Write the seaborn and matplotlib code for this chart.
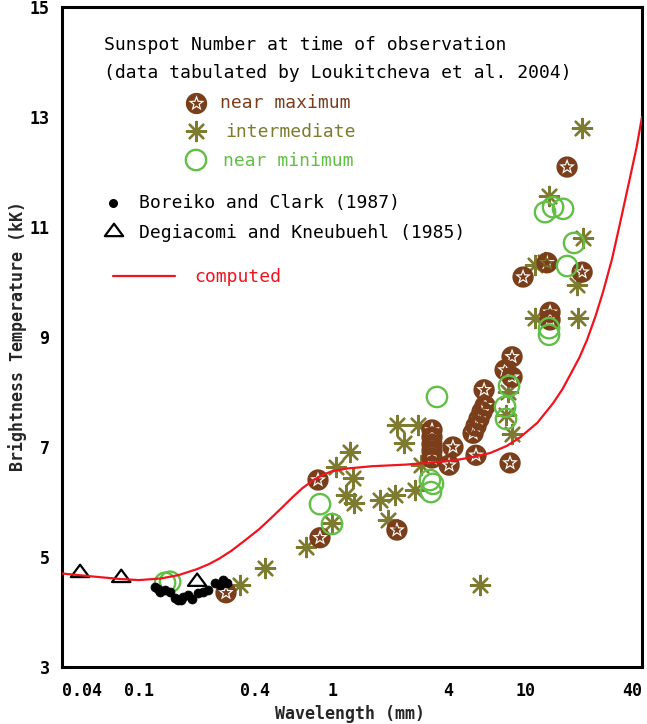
import numpy as np
import pandas as pd
import matplotlib
matplotlib.use("Agg")
import matplotlib.pyplot as plt
from matplotlib.path import Path
import seaborn as sns

# ---- observations, sunspot number near maximum (wavelength mm, T kK)
max_wl = [0.282, 0.844, 0.864, 2.16, 3.28, 3.28, 3.28, 3.28, 3.28, 4.21, 4.02,
          5.54, 6.10, 5.35, 5.54, 5.74, 5.95, 6.17, 8.31, 8.51, 7.83, 8.51,
          9.70, 12.91, 19.6, 13.38, 13.38, 16.39]
max_tb = [4.35, 6.40, 5.35, 5.49, 7.31, 7.18, 7.05, 6.93, 6.80, 7.00, 6.67,
          6.85, 8.04, 7.25, 7.38, 7.51, 7.64, 7.75, 6.71, 8.64, 8.40, 8.27,
          10.09, 10.35, 10.18, 9.45, 9.31, 12.09]

# ---- intermediate sunspot number
mid_wl = [0.333, 0.449, 0.732, 0.997, 1.943, 1.236, 1.046, 1.281, 1.178, 1.296,
          1.767, 2.112, 2.68, 2.163, 2.78, 2.351, 2.88, 5.81, 19.6, 13.22,
          19.83, 12.61, 11.19, 18.46, 11.19, 18.68, 8.11, 7.92, 8.51]
mid_tb = [4.49, 4.80, 5.18, 5.62, 5.67, 6.91, 6.64, 6.44, 6.13, 5.98,
          6.04, 6.13, 6.22, 7.40, 7.40, 7.07, 6.67, 4.49, 12.80, 11.56,
          10.80, 10.36, 10.31, 9.95, 9.35, 9.35, 8.00, 7.58, 7.24]

# ---- sunspot number near minimum
min_wl = [0.1365, 0.145, 0.864, 0.997, 3.48, 3.20, 3.24, 3.32, 12.61, 13.87,
          15.62, 17.81, 16.39, 13.22, 13.22, 8.21, 7.83, 7.92]
min_tb = [4.53, 4.55, 5.96, 5.60, 7.91, 6.40, 6.18, 6.33, 11.27, 11.36,
          11.33, 10.71, 10.29, 9.04, 9.16, 8.11, 7.73, 7.51]

# ---- Boreiko and Clark (1987)
bc_wl = [0.121, 0.125, 0.128, 0.137, 0.145, 0.154, 0.159, 0.165, 0.169, 0.180,
         0.188, 0.202, 0.214, 0.228, 0.247, 0.262, 0.272, 0.286]
bc_tb = [4.45, 4.42, 4.36, 4.40, 4.36, 4.25, 4.22, 4.22, 4.27, 4.31,
         4.24, 4.35, 4.36, 4.40, 4.53, 4.49, 4.58, 4.53]

# ---- Degiacomi and Kneubuehl (1985)
dk_wl = [0.0496, 0.081, 0.200]
dk_tb = [4.71, 4.62, 4.55]

# ---- computed brightness temperature spectrum
model_wl = [0.04, 0.06, 0.08, 0.10, 0.13, 0.16, 0.20, 0.23, 0.26, 0.30, 0.35,
            0.42, 0.49, 0.55, 0.62, 0.70, 0.80, 0.90, 1.0, 1.2, 1.6, 2.4, 3.6,
            4.5, 5.35, 6.55, 8.0, 9.4, 11.5, 13.9, 15.5, 17.0, 19.0, 20.8,
            23.0, 25.2, 28.0, 30.8, 34.7, 37.5, 40.0]
model_tb = [4.70, 4.64, 4.60, 4.58, 4.61, 4.67, 4.78, 4.87, 4.97, 5.11, 5.29,
            5.51, 5.73, 5.90, 6.08, 6.25, 6.40, 6.50, 6.56, 6.61, 6.65, 6.68,
            6.73, 6.77, 6.82, 6.89, 7.02, 7.18, 7.44, 7.80, 8.05, 8.31, 8.63,
            8.95, 9.38, 9.83, 10.42, 11.07, 11.90, 12.45, 13.0]

xticks = [0.04, 0.1, 0.4, 1, 4, 10, 40]
xtick_labels = ["0.04", "0.1", "0.4", "1", "4", "10", "40"]
yticks = [3, 5, 7, 9, 11, 13, 15]

BROWN = "#7a3e1b"
OLIVE = "#7d7b2f"
GREEN = "#62bf45"
RED = "#f0141e"

sns.set_style("white")
plt.rcParams["font.family"] = ["DejaVu Sans Mono", "DejaVu Sans"]


def star_ring_marker():
    """Filled disc with a star-shaped ring cut out of it."""
    t = np.linspace(0, 2 * np.pi, 65)
    circ = np.column_stack([np.cos(t), np.sin(t)])

    def star(r_out):
        ang = np.pi / 2 + np.arange(10) * np.pi / 5
        rad = np.where(np.arange(10) % 2 == 0, r_out, r_out * 0.42)
        pts = np.column_stack([rad * np.cos(ang), rad * np.sin(ang)])
        return np.vstack([pts, pts[:1]])

    outer = star(0.78)[::-1]      # clockwise -> hole
    inner = star(0.46)            # counter-clockwise -> filled again
    verts, codes = [], []
    for poly in (circ, outer, inner):
        verts.extend(poly.tolist())
        codes.extend([Path.MOVETO] + [Path.LINETO] * (len(poly) - 2) + [Path.CLOSEPOLY])
    return Path(verts, codes)


STAR_DISC = star_ring_marker()
TRIANGLE = Path([(-1, -0.45), (1, -0.45), (0, 0.9), (-1, -0.45)],
                [Path.MOVETO, Path.LINETO, Path.LINETO, Path.CLOSEPOLY])
ASTER = (8, 2, 0)

fig = plt.figure(figsize=(6.47, 7.24), dpi=100)
ax = fig.add_axes([62 / 647, 1 - 667 / 724, 580 / 647, 660 / 724])

df_mid = pd.DataFrame({"wl": mid_wl, "tb": mid_tb})
df_max = pd.DataFrame({"wl": max_wl, "tb": max_tb})
df_min = pd.DataFrame({"wl": min_wl, "tb": min_tb})
df_bc = pd.DataFrame({"wl": bc_wl, "tb": bc_tb})
df_dk = pd.DataFrame({"wl": dk_wl, "tb": dk_tb})
df_model = pd.DataFrame({"wl": model_wl, "tb": model_tb})

sns.scatterplot(data=df_mid, x="wl", y="tb", ax=ax, marker=ASTER, s=190,
                color=OLIVE, linewidth=1.7, zorder=3)
sns.scatterplot(data=df_max, x="wl", y="tb", ax=ax, marker=STAR_DISC, s=235,
                color=BROWN, edgecolor="none", linewidth=0, zorder=4)
sns.scatterplot(data=df_min, x="wl", y="tb", ax=ax, marker="o", s=215,
                facecolor="none", edgecolor=GREEN, linewidth=1.7, zorder=5)
sns.scatterplot(data=df_bc, x="wl", y="tb", ax=ax, marker="o", s=42,
                color="black", edgecolor="black", linewidth=0.5, zorder=6)
sns.scatterplot(data=df_dk, x="wl", y="tb", ax=ax, marker=TRIANGLE, s=175,
                facecolor="none", edgecolor="black", linewidth=1.6, zorder=6)
sns.lineplot(data=df_model, x="wl", y="tb", ax=ax, color=RED, linewidth=1.6,
             errorbar=None, zorder=7)

ax.set_xscale("log")
ax.set_xlim(0.04, 40)
ax.set_ylim(3, 15)
ax.set_xticks(xticks)
ax.set_xticklabels(xtick_labels)
ax.xaxis.set_minor_locator(matplotlib.ticker.NullLocator())
ax.set_yticks(yticks)
ax.set_yticklabels([str(v) for v in yticks])
ax.set_xlabel("")
ax.set_ylabel("")
ax.tick_params(axis="both", direction="in", length=9.5, width=1.6,
               colors="black", labelsize=12, top=False, right=False)
ax.tick_params(axis="x", pad=11)
ax.tick_params(axis="y", pad=9)
for lbl in ax.get_xticklabels() + ax.get_yticklabels():
    lbl.set_fontweight("bold")
ax.get_xticklabels()[0].set_ha("left")
ax.get_xticklabels()[-1].set_ha("right")
for sp in ax.spines.values():
    sp.set_visible(True)
    sp.set_linewidth(2.2)
    sp.set_color("black")

fig.text(350 / 647, 1 - 714 / 724, "Wavelength (mm)", ha="center", va="center",
         fontsize=12, fontweight="bold")
fig.text(18 / 647, 1 - 336 / 724, "Brightness Temperature (kK)", rotation=90,
         ha="center", va="center", fontsize=12, fontweight="bold")

# ---- key
T = ax.transAxes
def fx(px):
    return (px - 62) / 580
def fy(py):
    return (667 - py) / 660

txt = dict(transform=T, va="center", ha="left", fontsize=13)
ax.text(fx(104), fy(45), "Sunspot Number at time of observation", color="black", **txt)
ax.text(fx(104), fy(73), "(data tabulated by Loukitcheva et al. 2004)", color="black", **txt)

ax.scatter([fx(196)], [fy(103)], transform=T, marker=STAR_DISC, s=235,
           color=BROWN, linewidth=0, zorder=8, clip_on=False)
ax.text(fx(220), fy(103), "near maximum", color=BROWN, **txt)
ax.scatter([fx(196)], [fy(131)], transform=T, marker=ASTER, s=190,
           color=OLIVE, linewidth=1.7, zorder=8, clip_on=False)
ax.text(fx(225), fy(132), "intermediate", color=OLIVE, **txt)
ax.scatter([fx(196)], [fy(160)], transform=T, marker="o", s=215,
           facecolor="none", edgecolor=GREEN, linewidth=1.7, zorder=8, clip_on=False)
ax.text(fx(223), fy(161), "near minimum", color=GREEN, **txt)

ax.scatter([fx(113)], [fy(203)], transform=T, marker="o", s=30,
           color="black", zorder=8, clip_on=False)
ax.text(fx(139), fy(203), "Boreiko and Clark (1987)", color="black", **txt)
ax.scatter([fx(114)], [fy(232)], transform=T, marker=TRIANGLE, s=175,
           facecolor="none", edgecolor="black", linewidth=1.6, zorder=8, clip_on=False)
ax.text(fx(139), fy(233), "Degiacomi and Kneubuehl (1985)", color="black", **txt)

ax.plot([fx(113), fx(175)], [fy(276), fy(276)], transform=T, color=RED,
        linewidth=1.6, zorder=8)
ax.text(fx(194), fy(277), "computed", color=RED, **txt)

fig.savefig("out.png", dpi=100)
